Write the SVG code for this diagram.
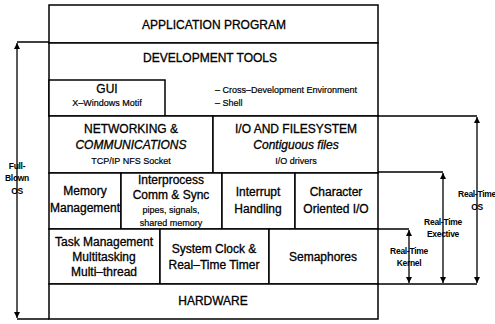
<svg xmlns="http://www.w3.org/2000/svg" width="495" height="324" viewBox="0 0 495 324">
<style>
.b{fill:#fff;stroke:#000;stroke-width:1.5}
.l{fill:none;stroke:#000;stroke-width:1.3}
.t{font-family:"Liberation Sans",Arial,sans-serif;font-size:12px;text-anchor:middle;fill:#000;stroke:#000;stroke-width:0.3}
.s{font-size:9px;stroke-width:0.2}
.i{font-style:italic}
.side{font-family:"Liberation Sans",Arial,sans-serif;font-size:8.5px;font-weight:bold;text-anchor:middle;fill:#000;letter-spacing:-0.3px}
</style>
<defs>
<marker id="ah" viewBox="0 0 10 10" refX="10" refY="5" markerWidth="6" markerHeight="8" markerUnits="userSpaceOnUse" orient="auto-start-reverse"><path d="M0,0 L10,5 L0,10 Z" fill="#000"/></marker>
</defs>
<g id="app"><rect class="b" x="49" y="5" width="329" height="38"/><text class="t" x="214" y="29">APPLICATION PROGRAM</text></g>
<g id="devtools"><rect class="b" x="49" y="43" width="329" height="73"/><text class="t" x="210" y="62">DEVELOPMENT TOOLS</text>
<text class="t s" x="215" y="93" style="text-anchor:start">– Cross–Development Environment</text>
<text class="t s" x="215" y="106" style="text-anchor:start">– Shell</text></g>
<g id="gui"><rect class="b" x="49" y="80" width="116" height="36"/><text class="t" x="107" y="93">GUI</text><text class="t s" x="107" y="106">X–Windows Motif</text></g>
<g id="networking"><rect class="b" x="49" y="116" width="164" height="57"/><text class="t" x="131" y="133">NETWORKING &amp;</text><text class="t i" x="131" y="149">COMMUNICATIONS</text><text class="t s" x="131" y="164">TCP/IP NFS Socket</text></g>
<g id="io"><rect class="b" x="213" y="116" width="165" height="57"/><text class="t" x="296" y="133">I/O AND FILESYSTEM</text><text class="t i" x="296" y="149">Contiguous files</text><text class="t s" x="296" y="164">I/O drivers</text></g>
<g id="memory"><rect class="b" x="49" y="173" width="72" height="56"/><text class="t" x="85" y="195">Memory</text><text class="t" x="85" y="212">Management</text></g>
<g id="ipc"><rect class="b" x="121" y="173" width="101" height="56"/><text class="t" x="171" y="184">Interprocess</text><text class="t" x="171" y="199">Comm &amp; Sync</text><text class="t s" x="171" y="213">pipes, signals,</text><text class="t s" x="171" y="226">shared memory</text></g>
<g id="interrupt"><rect class="b" x="222" y="173" width="73" height="56"/><text class="t" x="258" y="196">Interrupt</text><text class="t" x="258" y="213">Handling</text></g>
<g id="chario"><rect class="b" x="295" y="173" width="83" height="56"/><text class="t" x="336" y="196">Character</text><text class="t" x="336" y="213">Oriented I/O</text></g>
<g id="task"><rect class="b" x="49" y="229" width="111" height="55"/><text class="t" x="104" y="246">Task Management</text><text class="t" x="104" y="261">Multitasking</text><text class="t" x="104" y="276">Multi–thread</text></g>
<g id="clock"><rect class="b" x="160" y="229" width="109" height="55"/><text class="t" x="214" y="253">System Clock &amp;</text><text class="t" x="214" y="269">Real–Time Timer</text></g>
<g id="sem"><rect class="b" x="269" y="229" width="109" height="55"/><text class="t" x="323" y="261">Semaphores</text></g>
<g id="hardware"><rect class="b" x="49" y="284" width="329" height="35"/><text class="t" x="213" y="305">HARDWARE</text></g>
<g id="connectors">
<path class="l" d="M49,42 H17 M49,319 H17 M378,116 H477 M378,172 H443 M378,229 H409 M378,284 H477"/>
<line class="l" x1="17" y1="180" x2="17" y2="43" marker-end="url(#ah)"/>
<line class="l" x1="17" y1="180" x2="17" y2="318" marker-end="url(#ah)"/>
<line class="l" x1="477" y1="200" x2="477" y2="117" marker-end="url(#ah)"/>
<line class="l" x1="477" y1="200" x2="477" y2="283" marker-end="url(#ah)"/>
<line class="l" x1="443" y1="230" x2="443" y2="173" marker-end="url(#ah)"/>
<line class="l" x1="443" y1="230" x2="443" y2="283" marker-end="url(#ah)"/>
<line class="l" x1="409" y1="256" x2="409" y2="230" marker-end="url(#ah)"/>
<line class="l" x1="409" y1="256" x2="409" y2="283" marker-end="url(#ah)"/>
</g>
<g id="labels">
<text class="side" x="17" y="169">Full-</text><text class="side" x="17" y="181">Blown</text><text class="side" x="17" y="194">OS</text>
<text class="side" x="477" y="197">Real-Time</text><text class="side" x="477" y="210">OS</text>
<text class="side" x="443" y="225">Real-Time</text><text class="side" x="443" y="237">Exective</text>
<text class="side" x="409" y="254">Real-Time</text><text class="side" x="409" y="266">Kernel</text>
</g>
</svg>
